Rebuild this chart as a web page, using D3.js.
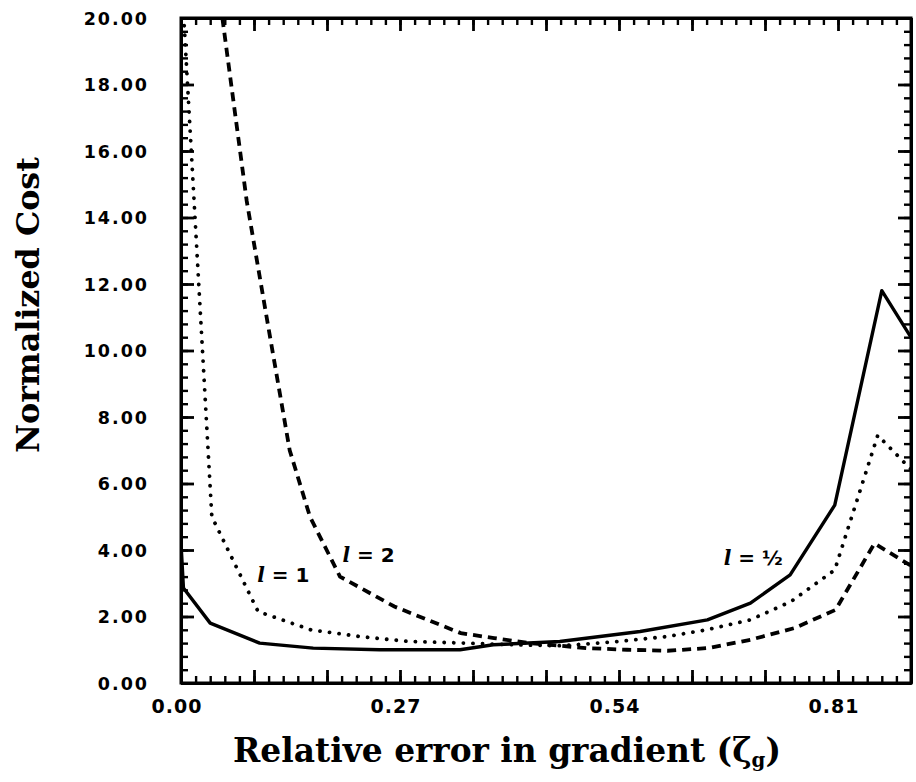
<!DOCTYPE html>
<html>
<head>
<meta charset="utf-8">
<script src="https://cdn.jsdelivr.net/npm/d3@7"></script>
<style>
  html, body { margin: 0; padding: 0; background: #fff; }
  svg { display: block; }
  .tk line { stroke: #000; }
</style>
</head>
<body>
<div id="chart"></div>
<script>
// ---------------- data ----------------
const seriesNames = ["l = 1/2", "l = 1", "l = 2"];

const solidX = [0.000, 0.003, 0.036, 0.097, 0.163, 0.245, 0.344, 0.385, 0.467, 0.566, 0.649, 0.702, 0.751, 0.806, 0.864, 0.905];
const solidY = [4.20, 2.86, 1.80, 1.20, 1.05, 1.00, 1.00, 1.15, 1.25, 1.55, 1.90, 2.40, 3.25, 5.35, 11.80, 10.20];

const dottedX = [0.000, 0.038, 0.095, 0.160, 0.220, 0.280, 0.350, 0.410, 0.470, 0.540, 0.600, 0.648, 0.702, 0.752, 0.806, 0.859, 0.905];
const dottedY = [21.5, 5.00, 2.15, 1.60, 1.40, 1.25, 1.20, 1.15, 1.12, 1.25, 1.40, 1.60, 1.90, 2.45, 3.40, 7.45, 6.30];

const dashedX = [0.051, 0.081, 0.107, 0.134, 0.159, 0.196, 0.263, 0.345, 0.386, 0.430, 0.500, 0.550, 0.600, 0.650, 0.702, 0.756, 0.807, 0.855, 0.905];
const dashedY = [20.0, 14.5, 10.8, 7.00, 5.00, 3.20, 2.30, 1.50, 1.35, 1.20, 1.05, 1.00, 0.97, 1.05, 1.30, 1.65, 2.20, 4.20, 3.45];

const xLabelValues = [0.00, 0.27, 0.54, 0.81];
const xLabelTexts  = ["0.00", "0.27", "0.54", "0.81"];
const yLabelValues = [0, 2, 4, 6, 8, 10, 12, 14, 16, 18, 20];
const yLabelTexts  = ["0.00", "2.00", "4.00", "6.00", "8.00", "10.00", "12.00", "14.00", "16.00", "18.00", "20.00"];

const xMinorStep = 0.018, xMajorStep = 0.09;
const yMinorStep = 0.4,   yMajorStep = 2;

const curveLabels = [
  { l: "l", rest: " = 1", x: 0.094, y: 3.05 },
  { l: "l", rest: " = 2", x: 0.199, y: 3.65 },
  { l: "l", rest: " = ½", x: 0.669, y: 3.55 }
];

// ---------------- layout ----------------
const W = 916, H = 782;
const pL = 181, pR = 911, pT = 18, pB = 683;

const svg = d3.select("#chart").append("svg")
  .attr("width", W).attr("height", H)
  .attr("viewBox", `0 0 ${W} ${H}`);

const xs = d3.scaleLinear().domain([0, 0.9]).range([pL, pR]);
const ys = d3.scaleLinear().domain([0, 20]).range([pB, pT]);

const xMinorVals = d3.range(0, 51).map(i => +(i * xMinorStep).toFixed(4));
const xMajorVals = d3.range(0, 11).map(i => +(i * xMajorStep).toFixed(4));
const yMinorVals = d3.range(0, 51).map(i => +(i * yMinorStep).toFixed(4));
const yMajorVals = d3.range(0, 11).map(i => i * yMajorStep);

const defs = svg.append("defs");
defs.append("clipPath").attr("id", "plotclip")
  .append("rect").attr("x", pL).attr("y", pT)
  .attr("width", pR - pL).attr("height", pB - pT);

// ---------------- frame ----------------
svg.append("rect").attr("x", pL).attr("y", pT)
  .attr("width", pR - pL).attr("height", pB - pT)
  .attr("fill", "none").attr("stroke", "#000").attr("stroke-width", 3);

// ---------------- ticks: D3 axes, inward on all four sides ----------------
function addAxis(gen, tx, ty, vals, len, w) {
  const g = svg.append("g").attr("class", "tk")
    .attr("transform", `translate(${tx},${ty})`)
    .call(gen.tickValues(vals).tickSizeInner(-len).tickSizeOuter(0).tickFormat(() => ""));
  g.select(".domain").attr("stroke", "#000").attr("stroke-width", 3);
  g.selectAll(".tick line").attr("stroke", "#000").attr("stroke-width", w).attr("opacity", 1);
  g.selectAll(".tick").attr("opacity", 1);
}
addAxis(d3.axisBottom(xs), 0, pB, xMinorVals, 7, 2.4);
addAxis(d3.axisBottom(xs), 0, pB, xMajorVals, 13, 2.8);
addAxis(d3.axisTop(xs), 0, pT, xMinorVals, 7, 2.4);
addAxis(d3.axisTop(xs), 0, pT, xMajorVals, 13, 2.8);
addAxis(d3.axisLeft(ys), pL, 0, yMinorVals, 7, 2.4);
addAxis(d3.axisLeft(ys), pL, 0, yMajorVals, 13, 2.8);
addAxis(d3.axisRight(ys), pR, 0, yMinorVals, 7, 2.4);
addAxis(d3.axisRight(ys), pR, 0, yMajorVals, 13, 2.8);

// ---------------- tick labels ----------------
svg.append("g").selectAll("text").data(xLabelValues).join("text")
  .attr("x", d => xs(d) - 4).attr("y", 713)
  .attr("text-anchor", "middle")
  .attr("font-family", "DejaVu Sans").attr("font-weight", "bold")
  .attr("font-size", 19).attr("letter-spacing", 1)
  .text((d, i) => xLabelTexts[i]);

svg.append("g").selectAll("text").data(yLabelValues).join("text")
  .attr("x", 149).attr("y", d => ys(d) + 6.5)
  .attr("text-anchor", "end")
  .attr("font-family", "DejaVu Sans").attr("font-weight", "bold")
  .attr("font-size", 17.5).attr("letter-spacing", 2)
  .text((d, i) => yLabelTexts[i]);

// ---------------- curves ----------------
const plot = svg.append("g").attr("clip-path", "url(#plotclip)");
const lineGen = d3.line().x(d => xs(d[0])).y(d => ys(d[1])).curve(d3.curveLinear);

const solidData = solidX.map((v, i) => [v, solidY[i]]);
const dottedData = dottedX.map((v, i) => [v, dottedY[i]]);
const dashedData = dashedX.map((v, i) => [v, dashedY[i]]);

plot.append("path").datum(solidData).attr("d", lineGen)
  .attr("fill", "none").attr("stroke", "#000").attr("stroke-width", 3.4)
  .attr("stroke-linejoin", "round");
plot.append("path").datum(dottedData).attr("d", lineGen)
  .attr("fill", "none").attr("stroke", "#000").attr("stroke-width", 3.8)
  .attr("stroke-linecap", "round").attr("stroke-dasharray", "0.1 9.5");
plot.append("path").datum(dashedData).attr("d", lineGen)
  .attr("fill", "none").attr("stroke", "#000").attr("stroke-width", 3.8)
  .attr("stroke-dasharray", "9 6");

// ---------------- curve labels ----------------
curveLabels.forEach(c => {
  const t = svg.append("text")
    .attr("x", xs(c.x)).attr("y", ys(c.y))
    .attr("font-family", "DejaVu Sans").attr("font-weight", "bold")
    .attr("font-size", 20);
  t.append("tspan").attr("font-style", "italic").attr("font-family", "DejaVu Serif").text(c.l);
  t.append("tspan").text(c.rest);
});

// ---------------- axis titles ----------------
function fitText(sel, target) {
  const len = sel.node().getComputedTextLength();
  const fs = parseFloat(sel.attr("font-size"));
  sel.attr("font-size", fs * target / len);
}

const xt = svg.append("text")
  .attr("x", 507).attr("y", 762)
  .attr("text-anchor", "middle")
  .attr("font-family", "DejaVu Serif").attr("font-weight", "bold")
  .attr("font-size", 30);
xt.append("tspan").text("Relative error in gradient (ζ");
xt.append("tspan").attr("font-size", "0.6em").attr("baseline-shift", "-25%").text("g");
xt.append("tspan").text(")");
fitText(xt, 548);

const yt = svg.append("text")
  .attr("transform", "translate(39,305) rotate(-90)")
  .attr("text-anchor", "middle")
  .attr("font-family", "DejaVu Serif").attr("font-weight", "bold")
  .attr("font-size", 28)
  .text("Normalized Cost");
fitText(yt, 296);
</script>
</body>
</html>
